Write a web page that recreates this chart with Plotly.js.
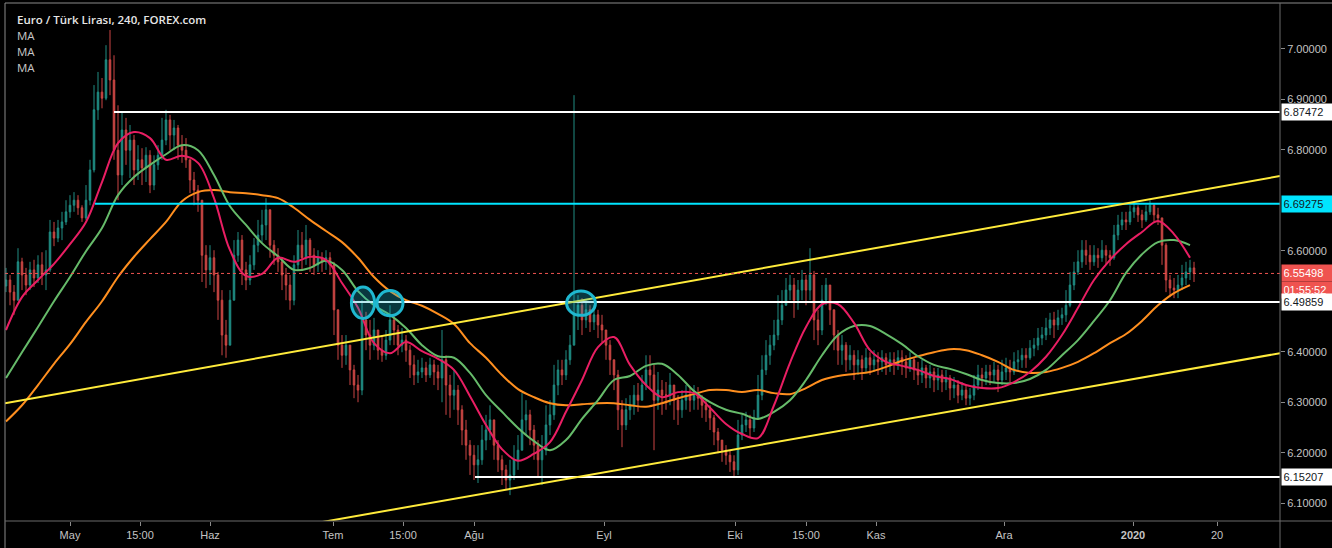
<!DOCTYPE html>
<html>
<head>
<meta charset="utf-8">
<script src="https://cdn.plot.ly/plotly-3.0.1.min.js"></script>
<style>html,body{margin:0;padding:0;background:#000;}#chart{width:1332px;height:548px;}</style>
</head>
<body>
<div id="chart"></div>
<script>
// ---- Data (EUR/TRY, 4h chart, one entry per candle slot) ----
const firstOpen = 6.530;
const closeP = [6.542,6.518,6.502,6.578,6.552,6.532,6.562,6.546,6.572,6.552,
6.562,6.637,6.625,6.645,6.657,6.677,6.690,6.700,6.685,6.665,
6.700,6.760,6.879,6.914,6.902,6.978,6.938,6.799,6.750,6.839,
6.799,6.819,6.760,6.780,6.764,6.789,6.730,6.770,6.789,6.819,
6.859,6.829,6.843,6.809,6.799,6.780,6.740,6.720,6.700,6.591,
6.562,6.586,6.552,6.502,6.433,6.413,6.502,6.591,6.621,6.562,
6.542,6.572,6.611,6.631,6.651,6.681,6.611,6.591,6.578,6.552,
6.532,6.502,6.572,6.611,6.586,6.621,6.591,6.572,6.586,6.578,
6.586,6.572,6.483,6.413,6.393,6.413,6.364,6.334,6.324,6.463,
6.433,6.413,6.443,6.403,6.393,6.423,6.463,6.443,6.413,6.423,
6.403,6.374,6.354,6.360,6.368,6.354,6.374,6.360,6.348,6.384,
6.334,6.314,6.324,6.285,6.245,6.215,6.195,6.176,6.186,6.225,
6.245,6.265,6.215,6.186,6.166,6.146,6.156,6.186,6.205,6.265,
6.275,6.245,6.215,6.186,6.205,6.255,6.275,6.334,6.364,6.354,
6.384,6.413,6.473,6.492,6.463,6.483,6.459,6.473,6.453,6.443,
6.413,6.384,6.354,6.285,6.255,6.285,6.294,6.314,6.304,6.334,
6.364,6.354,6.304,6.324,6.314,6.314,6.334,6.304,6.285,6.304,
6.314,6.304,6.314,6.308,6.294,6.285,6.269,6.241,6.225,6.205,
6.195,6.182,6.166,6.235,6.255,6.265,6.249,6.269,6.314,6.364,
6.393,6.413,6.433,6.463,6.492,6.522,6.532,6.502,6.522,6.542,
6.522,6.552,6.463,6.443,6.502,6.532,6.483,6.433,6.403,6.413,
6.384,6.393,6.374,6.384,6.368,6.388,6.374,6.384,6.380,6.388,
6.374,6.384,6.374,6.388,6.380,6.368,6.384,6.364,6.354,6.368,
6.348,6.360,6.344,6.354,6.340,6.348,6.328,6.334,6.314,6.324,
6.308,6.314,6.334,6.354,6.348,6.360,6.354,6.364,6.344,6.360,
6.368,6.360,6.380,6.384,6.393,6.388,6.407,6.413,6.427,6.433,
6.447,6.463,6.453,6.467,6.473,6.492,6.532,6.558,6.578,6.601,
6.591,6.578,6.591,6.586,6.601,6.591,6.586,6.631,6.651,6.661,
6.657,6.677,6.685,6.671,6.661,6.677,6.690,6.671,6.665,6.611,
6.542,6.526,6.522,6.532,6.546,6.558,6.566,6.555];
const highP = [6.566,6.552,6.532,6.605,6.586,6.566,6.578,6.582,6.591,6.597,
6.601,6.661,6.657,6.661,6.677,6.700,6.710,6.716,6.710,6.690,
6.730,6.780,6.928,6.954,6.942,7.007,7.037,6.987,6.888,6.875,
6.863,6.849,6.829,6.809,6.803,6.805,6.799,6.789,6.809,6.863,
6.879,6.869,6.859,6.849,6.829,6.823,6.780,6.756,6.730,6.700,
6.611,6.611,6.601,6.558,6.522,6.463,6.522,6.621,6.637,6.631,
6.578,6.591,6.625,6.661,6.681,6.704,6.671,6.621,6.605,6.586,
6.566,6.552,6.591,6.641,6.637,6.651,6.625,6.605,6.601,6.597,
6.601,6.597,6.578,6.483,6.433,6.433,6.413,6.374,6.354,6.502,
6.479,6.463,6.467,6.443,6.433,6.443,6.492,6.473,6.453,6.447,
6.433,6.413,6.393,6.384,6.388,6.380,6.388,6.384,6.374,6.443,
6.393,6.354,6.364,6.334,6.294,6.265,6.225,6.215,6.215,6.255,
6.275,6.294,6.245,6.225,6.195,6.176,6.186,6.215,6.235,6.318,
6.304,6.285,6.255,6.225,6.235,6.294,6.304,6.374,6.384,6.384,
6.403,6.433,6.908,6.512,6.506,6.502,6.492,6.492,6.483,6.473,
6.443,6.423,6.384,6.364,6.304,6.308,6.314,6.334,6.338,6.354,
6.393,6.393,6.374,6.360,6.344,6.340,6.358,6.334,6.314,6.324,
6.334,6.328,6.334,6.330,6.314,6.304,6.294,6.275,6.249,6.225,
6.215,6.205,6.195,6.265,6.275,6.281,6.275,6.285,6.354,6.393,
6.423,6.433,6.463,6.512,6.522,6.546,6.552,6.546,6.542,6.562,
6.552,6.605,6.560,6.483,6.532,6.546,6.532,6.483,6.443,6.433,
6.419,6.413,6.403,6.403,6.393,6.407,6.399,6.403,6.399,6.403,
6.397,6.399,6.399,6.403,6.403,6.393,6.399,6.388,6.380,6.384,
6.374,6.374,6.368,6.368,6.364,6.364,6.354,6.350,6.344,6.340,
6.334,6.328,6.354,6.374,6.368,6.374,6.374,6.380,6.374,6.384,
6.388,6.384,6.399,6.403,6.407,6.407,6.423,6.427,6.447,6.449,
6.467,6.477,6.479,6.483,6.487,6.522,6.558,6.578,6.601,6.621,
6.621,6.611,6.611,6.605,6.621,6.611,6.601,6.651,6.671,6.677,
6.677,6.690,6.694,6.690,6.681,6.690,6.700,6.694,6.685,6.665,
6.615,6.552,6.546,6.552,6.572,6.578,6.582,6.578];
const lowP = [6.518,6.492,6.473,6.502,6.522,6.512,6.522,6.528,6.536,6.532,
6.522,6.558,6.609,6.617,6.621,6.651,6.665,6.677,6.671,6.657,
6.661,6.690,6.755,6.859,6.882,6.898,6.908,6.780,6.700,6.730,
6.770,6.744,6.730,6.740,6.730,6.736,6.714,6.720,6.760,6.780,
6.809,6.799,6.799,6.780,6.774,6.764,6.714,6.690,6.677,6.538,
6.526,6.532,6.518,6.463,6.393,6.388,6.413,6.502,6.578,6.532,
6.522,6.532,6.562,6.597,6.617,6.621,6.586,6.572,6.558,6.522,
6.502,6.483,6.492,6.562,6.562,6.572,6.558,6.552,6.558,6.558,
6.562,6.552,6.433,6.384,6.368,6.374,6.334,6.308,6.300,6.314,
6.403,6.384,6.403,6.384,6.380,6.384,6.413,6.413,6.393,6.399,
6.380,6.348,6.334,6.338,6.348,6.340,6.348,6.334,6.324,6.300,
6.275,6.269,6.285,6.255,6.215,6.186,6.156,6.146,6.140,6.176,
6.205,6.225,6.186,6.162,6.136,6.126,6.116,6.146,6.166,6.205,
6.235,6.215,6.186,6.150,6.136,6.195,6.235,6.265,6.314,6.334,
6.344,6.374,6.413,6.443,6.433,6.447,6.439,6.443,6.427,6.419,
6.384,6.354,6.324,6.245,6.211,6.245,6.265,6.275,6.281,6.304,
6.324,6.328,6.205,6.285,6.275,6.285,6.294,6.265,6.255,6.269,
6.285,6.281,6.285,6.285,6.269,6.261,6.245,6.215,6.199,6.182,
6.176,6.162,6.150,6.156,6.225,6.241,6.229,6.241,6.265,6.304,
6.354,6.374,6.403,6.423,6.453,6.492,6.502,6.467,6.483,6.502,
6.492,6.502,6.423,6.413,6.433,6.492,6.453,6.403,6.374,6.374,
6.360,6.364,6.344,6.354,6.344,6.360,6.354,6.360,6.354,6.360,
6.354,6.360,6.354,6.364,6.354,6.348,6.360,6.344,6.334,6.338,
6.328,6.328,6.320,6.324,6.320,6.324,6.304,6.308,6.298,6.304,
6.294,6.294,6.304,6.324,6.328,6.334,6.334,6.340,6.320,6.334,
6.344,6.340,6.354,6.360,6.368,6.368,6.384,6.391,6.403,6.413,
6.423,6.433,6.427,6.443,6.453,6.459,6.488,6.522,6.552,6.566,
6.572,6.562,6.570,6.566,6.578,6.572,6.570,6.582,6.621,6.641,
6.641,6.651,6.665,6.657,6.645,6.657,6.671,6.657,6.651,6.572,
6.518,6.508,6.506,6.506,6.522,6.532,6.542,6.538];

// Moving averages, sampled every maStep candles
const maStep = 4;
const maFast = [6.443,6.508,6.542,6.574,6.613,6.657,6.736,6.813,6.835,6.823,
6.780,6.788,6.774,6.704,6.601,6.550,6.554,6.586,6.578,6.588,
6.582,6.536,6.487,6.417,6.397,6.419,6.401,6.386,6.364,6.312,
6.255,6.207,6.184,6.198,6.221,6.281,6.344,6.409,6.429,6.374,
6.334,6.310,6.320,6.318,6.289,6.257,6.237,6.229,6.294,6.378,
6.449,6.494,6.494,6.457,6.403,6.380,6.372,6.364,6.352,6.346,
6.334,6.328,6.328,6.340,6.360,6.390,6.433,6.487,6.542,6.582,
6.613,6.637,6.659,6.633,6.586];
const maMid = [6.348,6.399,6.449,6.500,6.548,6.599,6.645,6.710,6.746,6.770,
6.791,6.809,6.799,6.750,6.688,6.651,6.615,6.589,6.562,6.566,
6.580,6.562,6.520,6.492,6.473,6.447,6.413,6.391,6.388,6.358,
6.314,6.281,6.249,6.223,6.205,6.225,6.267,6.304,6.344,6.352,
6.372,6.376,6.354,6.322,6.300,6.285,6.277,6.267,6.281,6.304,
6.344,6.393,6.433,6.451,6.451,6.435,6.415,6.391,6.374,6.366,
6.356,6.344,6.338,6.338,6.346,6.364,6.393,6.423,6.461,6.502,
6.556,6.593,6.617,6.621,6.611];
const maSlow = [6.262,6.294,6.334,6.376,6.415,6.459,6.500,6.548,6.588,6.623,
6.657,6.698,6.716,6.720,6.716,6.714,6.710,6.704,6.685,6.661,
6.639,6.617,6.586,6.548,6.520,6.502,6.491,6.475,6.455,6.417,
6.388,6.354,6.326,6.310,6.298,6.294,6.296,6.298,6.298,6.294,
6.291,6.298,6.308,6.316,6.324,6.324,6.320,6.324,6.318,6.316,
6.328,6.344,6.352,6.356,6.360,6.370,6.382,6.391,6.399,6.405,
6.403,6.393,6.380,6.364,6.358,6.360,6.368,6.380,6.397,6.417,
6.435,6.461,6.492,6.516,6.532];

// Drawn levels and trend lines (candle-slot units, price)
const levelPrices = [6.87472, 6.69275, 6.49859, 6.15207];
const levelStarts = [27, 22.25, 86, 117.25];
const levelColors = ['#ffffff', '#00e5ff', '#ffffff', '#ffffff'];
const lastPrice = 6.55498;
const countdown = '01:55:52';
const trendUpX = [-0.25, 318.5], trendUpY = [6.298, 6.748];
const trendLoX = [73.5, 318.5], trendLoY = [6.055, 6.397];
// Marked circles: [centerSlot, centerPrice, halfWidthSlots, halfHeightPrice]
const circles = [[89.25, 6.497, 2.9, 0.031], [96, 6.496, 3.25, 0.025], [143.75, 6.496, 3.6, 0.024]];

// Axis labels
const xTickPos = [16, 33.5, 51, 81.75, 99.25, 117, 149.5, 182.25, 200, 217.5, 249.5, 281.75, 302.75];
const xTickText = ['May', '15:00', 'Haz', 'Tem', '15:00', 'Ağu', 'Eyl', 'Eki', '15:00', 'Kas', 'Ara', '<b>2020</b>', '20'];
// 6.7 and 6.5 sit behind the price tags in the reference, so they are not labelled
const yTickVals = [6.1, 6.2, 6.3, 6.4, 6.6, 6.8, 6.9, 7.0];

// ---- Build ----
const idx = closeP.map((_, i) => i);
const openP = closeP.map((v, i) => i === 0 ? firstOpen : closeP[i - 1]);
const maX = maFast.map((_, k) => k * maStep);
const XMAX = 318.5, XMIN = -0.25;

const traces = [];
traces.push({
  type: 'candlestick', x: idx, open: openP, high: highP, low: lowP, close: closeP,
  increasing: {line: {color: '#26a69a', width: 1}, fillcolor: '#26a69a'},
  decreasing: {line: {color: '#ef5350', width: 1}, fillcolor: '#ef5350'},
  whiskerwidth: 0, hoverinfo: 'skip', opacity: 0.85
});
[[maSlow, '#ff8f1f'], [maMid, '#66bb6a'], [maFast, '#e91e63']].forEach(([arr, col]) => {
  traces.push({type: 'scatter', mode: 'lines', x: maX, y: arr, line: {color: col, width: 2, shape: 'spline', smoothing: 1}, hoverinfo: 'skip'});
});
levelPrices.forEach((p, k) => {
  traces.push({type: 'scatter', mode: 'lines', x: [levelStarts[k], XMAX], y: [p, p], line: {color: levelColors[k], width: 2}, hoverinfo: 'skip'});
});
traces.push({type: 'scatter', mode: 'lines', x: trendUpX, y: trendUpY, line: {color: '#ffeb3b', width: 2}, hoverinfo: 'skip'});
traces.push({type: 'scatter', mode: 'lines', x: trendLoX, y: trendLoY, line: {color: '#ffeb3b', width: 2}, hoverinfo: 'skip'});

const shapes = [];
shapes.push({type: 'line', xref: 'paper', yref: 'y', x0: 0, x1: 1, y0: lastPrice, y1: lastPrice, line: {color: '#ef5350', width: 1, dash: 'dot'}});
circles.forEach(c => {
  shapes.push({type: 'circle', xref: 'x', yref: 'y', x0: c[0] - c[2], x1: c[0] + c[2], y0: c[1] - c[3], y1: c[1] + c[3],
    line: {color: '#1fb8d0', width: 3}, fillcolor: 'rgba(31,184,208,0.30)'});
});
// frame lines
shapes.push({type: 'line', xref: 'paper', yref: 'paper', x0: 0, x1: 1.041, y0: 1, y1: 1, line: {color: '#8a8a8a', width: 1}});
shapes.push({type: 'line', xref: 'paper', yref: 'paper', x0: 0, x1: 0, y0: -0.052, y1: 1, line: {color: '#8a8a8a', width: 1}});
shapes.push({type: 'line', xref: 'paper', yref: 'paper', x0: 1, x1: 1, y0: -0.052, y1: 1, line: {color: '#6a6a6a', width: 1}});
shapes.push({type: 'line', xref: 'paper', yref: 'paper', x0: 0, x1: 1.041, y0: 0, y1: 0, line: {color: '#6a6a6a', width: 1}});

const ann = [];
ann.push({xref: 'paper', yref: 'paper', x: 0.0078, y: 0.969, xanchor: 'left', yanchor: 'middle', showarrow: false,
  text: 'Euro / Türk Lirası, 240, FOREX.com', font: {family: 'Open Sans', size: 11.5, color: '#e6e6e6', weight: 600}});
[0.938, 0.907, 0.876].forEach(y => ann.push({xref: 'paper', yref: 'paper', x: 0.0078, y: y, xanchor: 'left', yanchor: 'middle', showarrow: false,
  text: 'MA', font: {family: 'Open Sans', size: 11.5, color: '#c8c8c8'}}));
function priceTag(y, text, bg, fg, shift) {
  ann.push({xref: 'paper', yref: 'y', x: 1, y: y, xanchor: 'left', yanchor: 'middle', xshift: 1, yshift: shift || 0, showarrow: false,
    text: text, bgcolor: bg, width: 47, height: 13, align: 'left', borderpad: 1.5,
    font: {family: 'Liberation Sans', size: 11, color: fg}});
}
priceTag(levelPrices[0], levelPrices[0].toFixed(5), '#ffffff', '#131722');
priceTag(levelPrices[1], levelPrices[1].toFixed(5), '#00e5ff', '#131722');
priceTag(lastPrice, lastPrice.toFixed(5), '#ef5350', '#ffffff');
priceTag(lastPrice, countdown, '#ef5350', '#ffffff', -17);
priceTag(levelPrices[2], levelPrices[2].toFixed(5), '#ffffff', '#131722');
priceTag(levelPrices[3], levelPrices[3].toFixed(5), '#ffffff', '#131722');

const axFont = {family: 'Liberation Sans', size: 11, color: '#c4c4c4'};
const layout = {
  width: 1332, height: 548,
  paper_bgcolor: '#000000', plot_bgcolor: '#000000',
  margin: {l: 5, r: 52, t: 3, b: 27},
  showlegend: false, boxgap: 0.45, hovermode: false,
  xaxis: {range: [XMIN, XMAX], tickmode: 'array', tickvals: xTickPos, ticktext: xTickText, showgrid: false, zeroline: false,
    ticks: 'outside', ticklen: 4, tickcolor: '#8a8a8a', tickfont: axFont, showline: false,
    rangeslider: {visible: false}, fixedrange: true},
  yaxis: {side: 'right', range: [6.0648, 7.0905], tickmode: 'array', tickvals: yTickVals, tickformat: '.5f', showgrid: false, zeroline: false,
    ticks: 'outside', ticklen: 4, tickcolor: '#8a8a8a', tickfont: axFont, showline: false, fixedrange: true},
  shapes: shapes, annotations: ann
};
Plotly.newPlot('chart', traces, layout, {staticPlot: true, displayModeBar: false});
</script>
</body>
</html>
